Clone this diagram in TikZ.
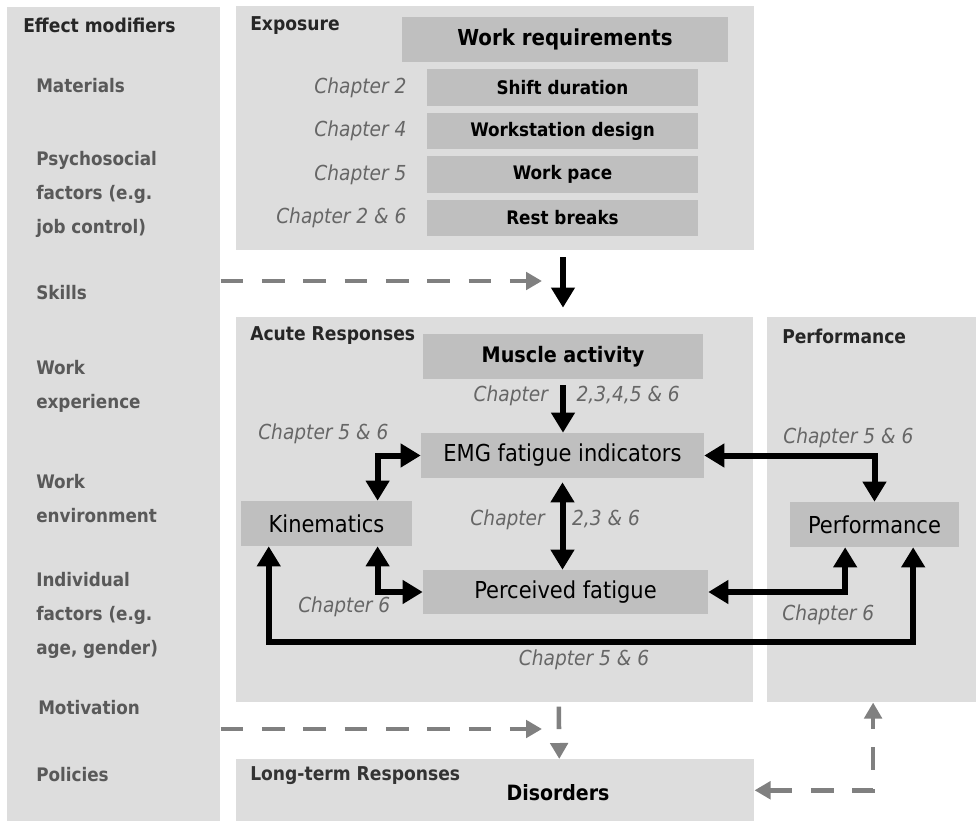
\documentclass[tikz,border=0pt]{standalone}
\usepackage{fontspec}
\setmainfont{DejaVu Sans Condensed}
\usetikzlibrary{arrows.meta,positioning}
\definecolor{panelgray}{HTML}{DDDDDD}
\definecolor{boxgray}{HTML}{BFBFBF}
\definecolor{chapgray}{HTML}{666666}
\definecolor{listgray}{HTML}{595959}
\definecolor{dashgray}{HTML}{808080}
\tikzset{sized/.style 2 args={minimum width=#1*0.75pt, minimum height=#2*0.75pt},
panel/.style={fill=panelgray, inner sep=0pt, anchor=north west},
factorbox/.style={fill=boxgray, inner sep=0pt, font=\bfseries\fontsize{14}{16}\selectfont},
headbox/.style={fill=boxgray, inner sep=0pt, font=\bfseries\fontsize{16.5}{19}\selectfont},
respbox/.style={fill=boxgray, inner sep=0pt, font=\fontsize{17.5}{20}\selectfont},
chap/.style={text=chapgray, inner sep=0pt, font=\itshape\fontsize{15.5}{18}\selectfont},
paneltitle/.style={anchor=west, inner sep=0pt, text=black!85, font=\bfseries\fontsize{14.3}{17}\selectfont},
modifier/.style={anchor=west, align=left, inner sep=0pt, text=listgray, font=\bfseries\fontsize{14}{25.5}\selectfont},
link/.style={line width=4.5pt, >={Triangle[length=15pt,width=17pt]}},
dashlink/.style={dashgray, line width=3.4pt, dash pattern=on 17pt off 14pt, >={Triangle[length=12pt,width=13pt]}}}
\begin{document}
\begin{tikzpicture}[x=0.75pt, y=-0.75pt]
        \useasboundingbox (0,0) rectangle (976,821);
        % panels
        \node[panel, sized={213}{814}] (modpanel) at (7,7) {};
        \node[panel, sized={518}{244}] (exposure) at (236,6) {};
        \node[panel, sized={517}{385}] (acute) at (236,317) {};
        \node[panel, sized={209}{385}] (perfpanel) at (767,317) {};
        \node[panel, sized={518}{62}] (longterm) at (236,759) {};

        % panel titles
        \node[paneltitle] (modtitle) at (23,25) {Effect modifiers};
        \node[paneltitle] (exptitle) at (250,26) {Exposure};
        \node[paneltitle] (acutetitle) at (250,336) {Acute Responses};
        \node[paneltitle] (perftitle) at (782,336) {Performance};
        \node[paneltitle, text=black!80] (longtitle) at (250,776) {Long-term Responses};

        % effect modifiers
        \node[modifier] (mat) at (36,86) {Materials};
        \node[modifier] (psy) at (36,194) {Psychosocial\\factors (e.g.\\job control)};
        \node[modifier] (skills) at (36,293) {Skills};
        \node[modifier] (workexp) at (36,386) {Work\\experience};
        \node[modifier] (workenv) at (36,499) {Work\\environment};
        \node[modifier] (indiv) at (36,615) {Individual\\factors (e.g.\\age, gender)};
        \node[modifier] (motiv) at (38,708) {Motivation};
        \node[modifier] (policy) at (36,775) {Policies};

        % exposure
        \node[headbox, sized={326}{45}] (workreq) at (565,39.5) {Work requirements};
        \node[factorbox, sized={271}{37}] (shift) at (562.5,87.5) {Shift duration};
        \node[factorbox, sized={271}{36}] (station) at (562.5,131) {Workstation design};
        \node[factorbox, sized={271}{37}] (pace) at (562.5,174.5) {Work pace};
        \node[factorbox, sized={271}{36}] (rest) at (562.5,218) {Rest breaks};
        \node[chap, anchor=east, left=15pt of shift] (chshift) {Chapter 2};
        \node[chap, anchor=east, left=15pt of station] (chstation) {Chapter 4};
        \node[chap, anchor=east, left=15pt of pace] (chpace) {Chapter 5};
        \node[chap, anchor=east, left=15pt of rest] (chrest) {Chapter 2 \& 6};

        % responses
        \node[headbox, font=\bfseries\fontsize{16}{19}\selectfont, sized={280}{45}] (muscle) at (563,356.5) {Muscle activity};
        \node[respbox, sized={283}{45}] (emg) at (562.5,455.5) {EMG fatigue indicators};
        \node[respbox, sized={171}{45}] (kin) at (326.5,523.5) {Kinematics};
        \node[respbox, sized={285}{44}] (perceived) at (565.5,592) {Perceived fatigue};
        \node[respbox, sized={169}{45}] (perf) at (874.5,524.5) {Performance};
        \node[inner sep=0pt, font=\bfseries\fontsize{15.8}{18}\selectfont] (disorders) at (558,793) {Disorders};

        % chapter labels
        \node[chap, anchor=west] (chkin) at (258,434) {Chapter 5 \& 6};
        \node[chap, anchor=west] (chkinper) at (298,607) {Chapter 6};
        \node[chap] (chloop) at (584,660) {Chapter 5 \& 6};
        \node[chap, anchor=west] (chemgperf) at (783,438) {Chapter 5 \& 6};
        \node[chap, anchor=west] (chperperf) at (782,615) {Chapter 6};

        % solid connectors
        \draw[link, ->, shorten <=5pt, shorten >=7pt] (exposure.south -| muscle.south) -- (acute.north -| muscle.south);
        \draw[link, ->, shorten <=4.5pt] (muscle.south) -- (emg.north -| muscle.south)
            node[chap, pos=0.3, left=9pt] (chmus) {Chapter}
            node[chap, pos=0.3, right=8pt] (chmusn) {2,3,4,5 \& 6};
        \draw[link, <->, shorten <=3pt] (emg.south) -- (perceived.north -| emg.south)
            node[chap, pos=0.45, left=11pt] (chemg) {Chapter}
            node[chap, pos=0.45, right=5pt] (chemgn) {2,3 \& 6};
        \draw[link, <->] (emg.west) -| ([xshift=-26pt]kin.north east);
        \draw[link, <->] (perceived.west) -| ([xshift=-26pt]kin.south east);
        \draw[link, <->] (emg.east) -| (perf.north);
        \draw[link, <->] (perceived.east) -| ([xshift=-22pt]perf.south);
        \coordinate (loopline) at (600,642);
        \draw[link, <->] ([xshift=21pt]kin.south west) |- (loopline) -| ([xshift=29pt]perf.south);

        % dashed connectors
        \coordinate (skillsend) at (542,281);
        \coordinate (motivend) at (542,729);
        \draw[dashlink, ->] (modpanel.east |- skillsend) -- (skillsend);
        \draw[dashlink, ->] (modpanel.east |- motivend) -- (motivend);
        \draw[dashlink, ->, shorten <=3pt] ([xshift=48pt]acute.south) -- ([xshift=48pt]longterm.north);
        \draw[dashlink, <->] (longterm.east) -| ([xshift=1pt]perfpanel.south);
\end{tikzpicture}
\end{document}
